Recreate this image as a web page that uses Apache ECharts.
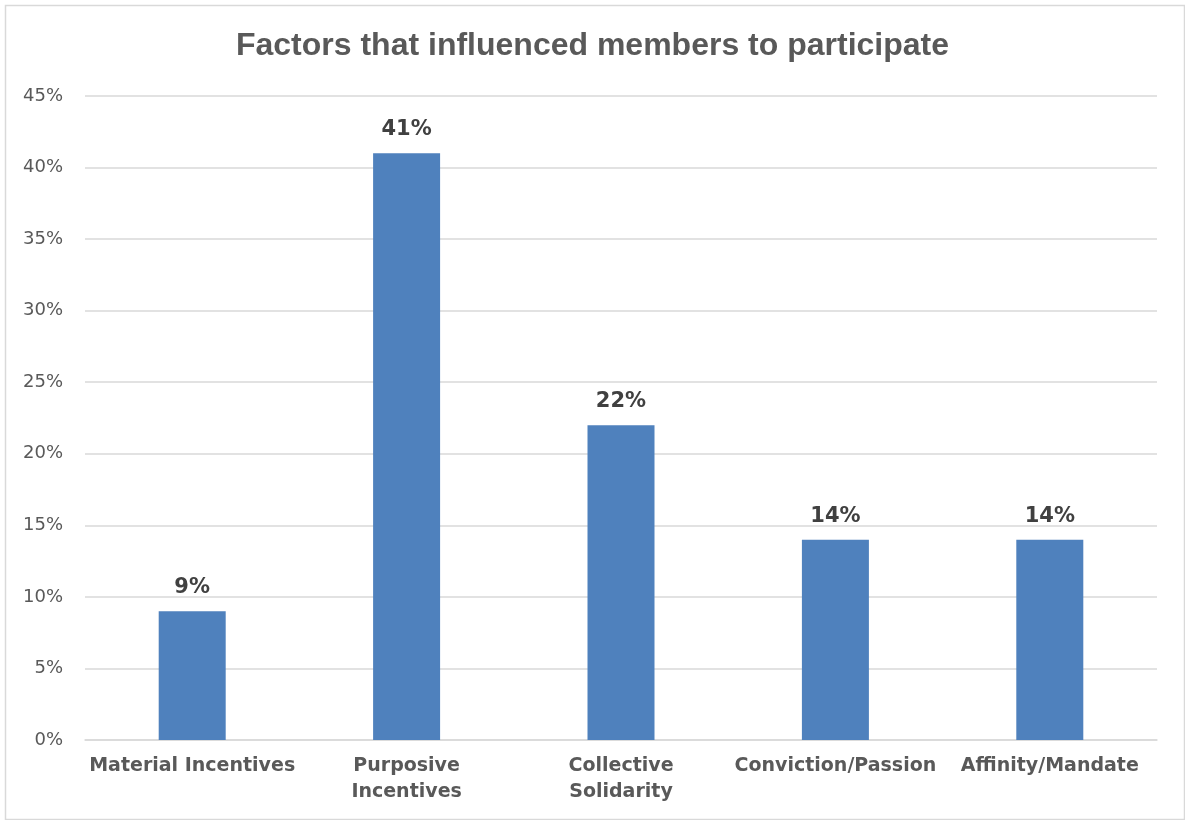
<!DOCTYPE html>
<html>
<head>
<meta charset="utf-8">
<script src="https://cdn.jsdelivr.net/npm/echarts@6/dist/echarts.min.js"></script>
<style>
html,body{margin:0;padding:0;background:#fff;}
#main{width:1185px;height:820px;}
</style>
</head>
<body>
<div id="main"></div>
<script>
const titleText = 'Factors that influenced members to participate';
const categories = ['Material Incentives', 'Purposive\nIncentives', 'Collective\nSolidarity', 'Conviction/Passion', 'Affinity/Mandate'];
const values = [9, 41, 22, 14, 14];
const yTicks = [0, 5, 10, 15, 20, 25, 30, 35, 40, 45];

const chart = echarts.init(document.getElementById('main'));
chart.setOption({
  animation: false,
  backgroundColor: '#fff',
  graphic: [{
    type: 'rect', left: 3, top: 3,
    shape: { width: 1179, height: 814 },
    style: { fill: 'none', stroke: '#d9d9d9', lineWidth: 1.5 },
    silent: true
  }],
  title: {
    text: titleText, left: 'center', top: 25,
    textStyle: { fontFamily: 'Liberation Sans, Arial', fontWeight: 'bold', fontSize: 32, color: '#595959' }
  },
  grid: { left: 85, right: 28, top: 96, bottom: 80 },
  xAxis: {
    type: 'category', data: categories,
    axisLine: { lineStyle: { color: '#d9d9d9', width: 1.5 } },
    axisTick: { show: false },
    axisLabel: { interval: 0, margin: 13, fontFamily: 'DejaVu Sans, sans-serif', fontWeight: 'bold', fontSize: 19, color: '#595959', lineHeight: 26 }
  },
  yAxis: {
    type: 'value', min: yTicks[0], max: yTicks[yTicks.length - 1], interval: 5,
    axisLine: { show: false }, axisTick: { show: false },
    splitLine: { lineStyle: { color: '#d9d9d9', width: 1.5 } },
    axisLabel: { formatter: v => v + '%', fontFamily: 'DejaVu Sans, sans-serif', fontSize: 18, color: '#595959', margin: 22 }
  },
  series: [{
    type: 'bar', data: values, barWidth: 67,
    itemStyle: { color: '#4F81BD' },
    label: { show: true, position: 'top', distance: 13, formatter: p => p.value + '%', fontFamily: 'DejaVu Sans, sans-serif', fontWeight: 'bold', fontSize: 21, color: '#404040' }
  }]
});
</script>
</body>
</html>
